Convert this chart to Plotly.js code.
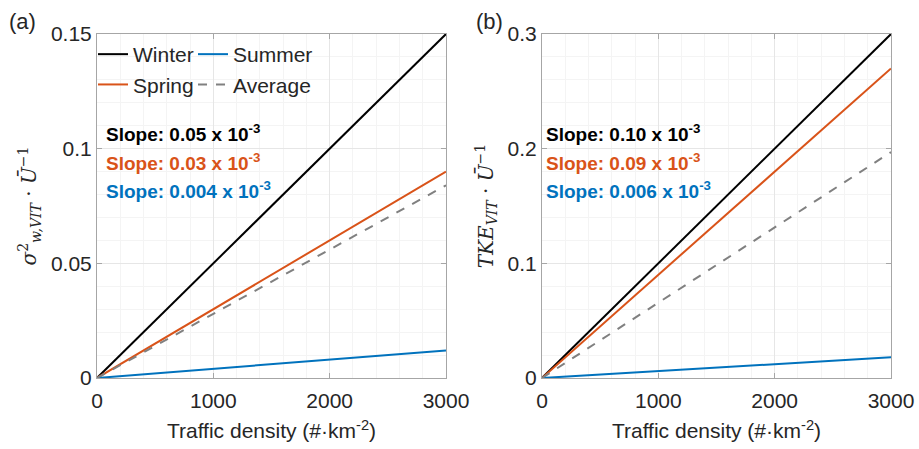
<!DOCTYPE html>
<html>
<head>
<meta charset="utf-8">
<script src="https://cdn.plot.ly/plotly-3.0.1.min.js"></script>
<style>html,body{margin:0;padding:0;background:#fff;}#chart{width:919px;height:449px;}</style>
</head>
<body>
<div id="chart"></div>
<script>
// ---- data ----
const trafficDensity = [0, 3000];
const seriesNames = ['Winter', 'Spring', 'Summer', 'Average'];
const sigmaWinter = [0, 0.15];
const sigmaSummer = [0, 0.012];
const sigmaSpring = [0, 0.09];
const sigmaAverage = [0, 0.084];
const tkeWinter = [0, 0.30];
const tkeSummer = [0, 0.018];
const tkeSpring = [0, 0.27];
const tkeAverage = [0, 0.197];
const slopeLabelsA = ['0.05', '0.03', '0.004'];
const slopeLabelsB = ['0.10', '0.09', '0.006'];
const xTicks = [0, 1000, 2000, 3000];

const colors = {Winter: '#000000', Summer: '#0072BD', Spring: '#D95319', Average: '#808080'};
const dashes = {Winter: 'solid', Summer: 'solid', Spring: 'solid', Average: 'dash'};
const legendOf = {Winter: 'legend', Spring: 'legend', Summer: 'legend2', Average: 'legend2'};

const dataA = {Winter: sigmaWinter, Summer: sigmaSummer, Spring: sigmaSpring, Average: sigmaAverage};
const dataB = {Winter: tkeWinter, Summer: tkeSummer, Spring: tkeSpring, Average: tkeAverage};

const traces = [];
seriesNames.forEach(n => {
  traces.push({x: trafficDensity, y: dataA[n], name: n, mode: 'lines', xaxis: 'x', yaxis: 'y',
    line: {color: colors[n], width: 2, dash: dashes[n]}, legend: legendOf[n], showlegend: true});
});
seriesNames.forEach(n => {
  traces.push({x: trafficDensity, y: dataB[n], name: n, mode: 'lines', xaxis: 'x2', yaxis: 'y2',
    line: {color: colors[n], width: 2, dash: dashes[n]}, showlegend: false});
});

const W = 919, H = 449;
const px = v => v / W, py = v => 1 - v / H;
const txtCol = '#262626';
const frameCol = '#a6a6a6';

function xAxis(domain, anchor) {
  return {
    domain: domain, anchor: anchor, range: [0, 3000], tickvals: xTicks,
    ticks: 'inside', ticklen: 5, tickcolor: frameCol, showline: true, mirror: 'ticks',
    linecolor: frameCol, linewidth: 1, gridcolor: '#e6e6e6', zeroline: false,
    minor: {dtick: 200, showgrid: true, gridcolor: '#f4f4f4', ticks: ''},
    tickfont: {family: 'Liberation Sans, Arial, sans-serif', size: 21, color: txtCol},
    ticklabelstandoff: 4,
    title: {text: 'Traffic density (#·km<sup>-2</sup>)', standoff: 12,
      font: {family: 'Liberation Sans, Arial, sans-serif', size: 21, color: txtCol}}
  };
}
function yAxis(range, dtick, minor, anchor, title) {
  return {
    domain: [py(378), py(34)], anchor: anchor, range: range, dtick: dtick,
    ticks: 'inside', ticklen: 5, tickcolor: frameCol, showline: true, mirror: 'ticks',
    linecolor: frameCol, linewidth: 1, gridcolor: '#e6e6e6', zeroline: false,
    minor: {dtick: minor, showgrid: true, gridcolor: '#f4f4f4', ticks: ''},
    tickfont: {family: 'Liberation Sans, Arial, sans-serif', size: 21, color: txtCol},
    ticklabelstandoff: 0,
    title: {text: title, standoff: 8,
      font: {family: 'DejaVu Serif, serif', size: 20, color: txtCol}}
  };
}

const annotations = [
  {text: '(a)', x: px(7), y: py(21), xref: 'paper', yref: 'paper', xanchor: 'left', yanchor: 'middle', showarrow: false,
    font: {family: 'Liberation Sans, Arial, sans-serif', size: 22, color: txtCol}},
  {text: '(b)', x: px(474), y: py(21), xref: 'paper', yref: 'paper', xanchor: 'left', yanchor: 'middle', showarrow: false,
    font: {family: 'Liberation Sans, Arial, sans-serif', size: 22, color: txtCol}}
];
const slopeColors = [colors.Winter, colors.Spring, colors.Summer];
const slopeY = [133, 162, 190];
slopeLabelsA.forEach((s, i) => annotations.push({
  text: '<b>Slope: ' + s + ' x 10<sup>-3</sup></b>', x: px(104), y: py(slopeY[i]), xref: 'paper', yref: 'paper',
  xanchor: 'left', yanchor: 'middle', showarrow: false,
  font: {family: 'Liberation Sans, Arial, sans-serif', size: 19, color: slopeColors[i]}}));
slopeLabelsB.forEach((s, i) => annotations.push({
  text: '<b>Slope: ' + s + ' x 10<sup>-3</sup></b>', x: px(544), y: py(slopeY[i]), xref: 'paper', yref: 'paper',
  xanchor: 'left', yanchor: 'middle', showarrow: false,
  font: {family: 'Liberation Sans, Arial, sans-serif', size: 19, color: slopeColors[i]}}));

const legendBase = {
  orientation: 'v', xanchor: 'left', yanchor: 'top', bgcolor: 'rgba(0,0,0,0)', borderwidth: 0,
  font: {family: 'Liberation Sans, Arial, sans-serif', size: 21, color: txtCol},
  itemwidth: 30, tracegroupgap: 0
};

const layout = {
  width: W, height: H, margin: {l: 0, r: 0, t: 0, b: 0},
  paper_bgcolor: '#ffffff', plot_bgcolor: '#ffffff',
  showlegend: true,
  xaxis: xAxis([px(97), px(446)], 'y'),
  yaxis: yAxis([0, 0.15], 0.05, 0.01, 'x', '<i>σ</i><sup>2</sup><sub><i>w,VIT</i></sub> · <i>Ū</i><sup>−1</sup>'),
  xaxis2: xAxis([px(542), px(891)], 'y2'),
  yaxis2: yAxis([0, 0.3], 0.1, 0.02, 'x2', '<i>TKE</i><sub><i>VIT</i></sub> · <i>Ū</i><sup>−1</sup>'),
  legend: Object.assign({}, legendBase, {x: px(93), y: py(34)}),
  legend2: Object.assign({}, legendBase, {x: px(193), y: py(34)}),
  annotations: annotations
};

Plotly.newPlot('chart', traces, layout, {displayModeBar: false, staticPlot: true});
</script>
</body>
</html>
